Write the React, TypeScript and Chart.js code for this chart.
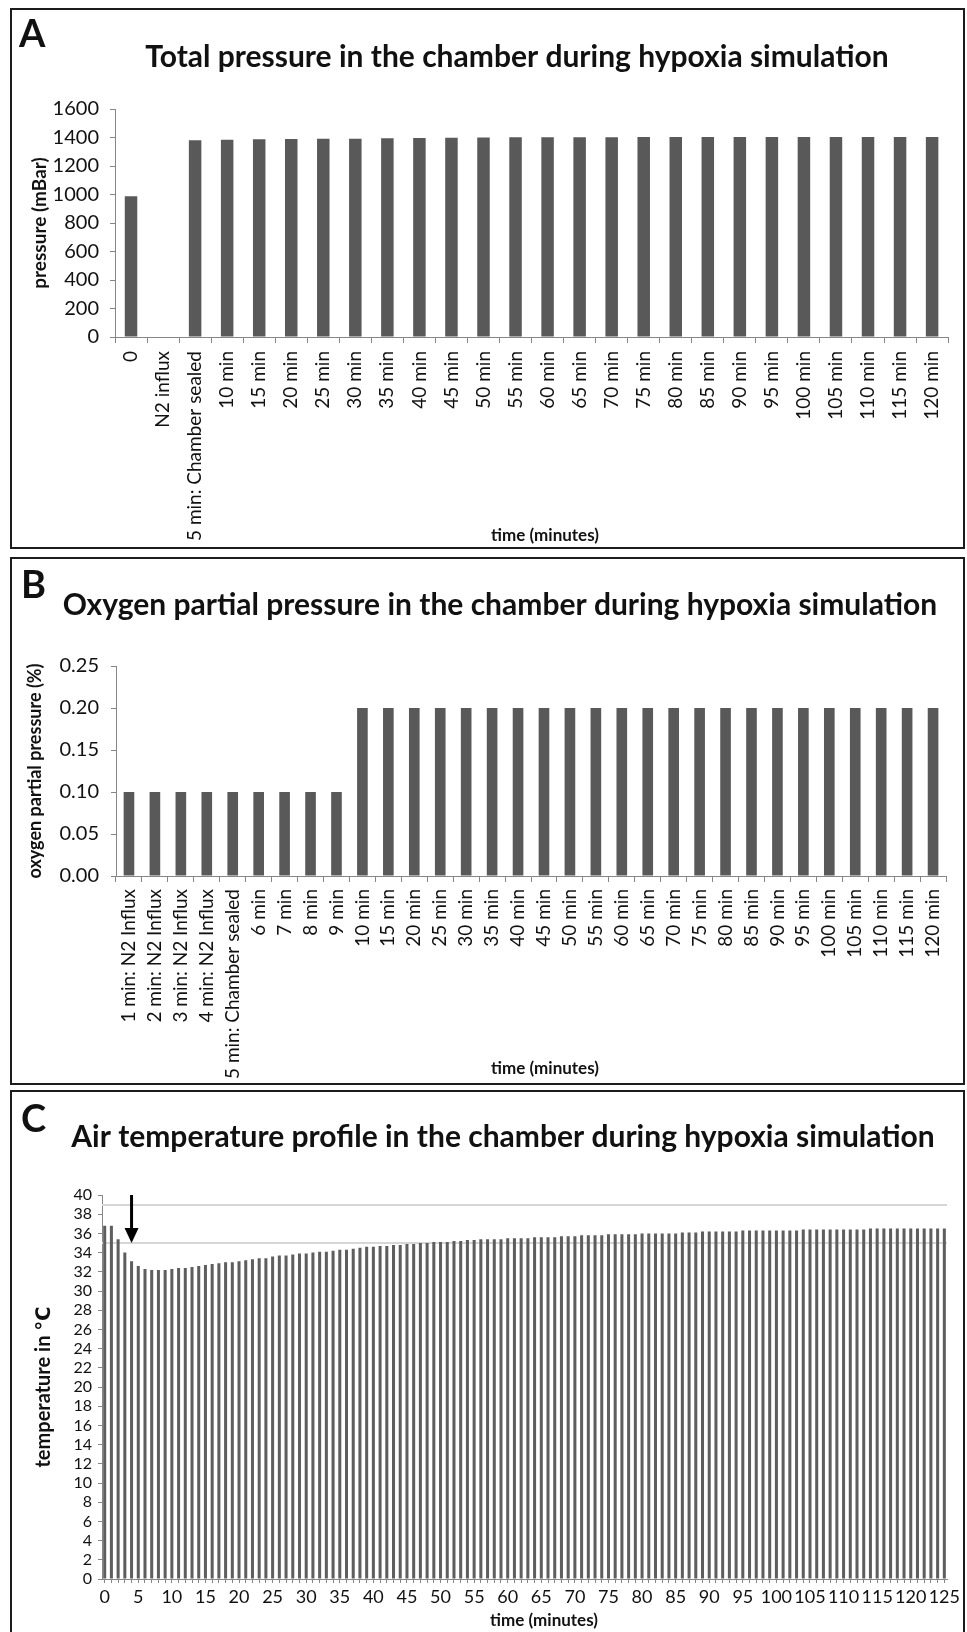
import React, { useEffect, useRef } from "react";
import { Chart, registerables } from "chart.js";

Chart.register(...registerables);

const FONT_FAMILY = "Lato, 'Open Sans', 'DejaVu Sans', sans-serif";
const BAR_COLOR = "#595959";
const AXIS_COLOR = "#868686";
const TEXT_COLOR = "#111111";
const X_LABEL = "time (minutes)";

// ---------------- Panel A data ----------------
const A_TITLE = "Total pressure in the chamber during hypoxia simulation";
const A_Y_LABEL = "pressure (mBar)";
const A_CATEGORIES = [
  "0", "N2 influx", "5 min: Chamber sealed", "10 min", "15 min", "20 min", "25 min",
  "30 min", "35 min", "40 min", "45 min", "50 min", "55 min", "60 min", "65 min",
  "70 min", "75 min", "80 min", "85 min", "90 min", "95 min", "100 min", "105 min",
  "110 min", "115 min", "120 min",
];
const A_PRESSURE_MBAR = [
  988, null, 1381, 1385, 1388, 1390, 1392, 1392, 1395, 1397, 1399, 1400, 1401,
  1401, 1402, 1402, 1403, 1403, 1403, 1403, 1403, 1404, 1404, 1404, 1404, 1404,
];
const A_Y_MIN = 0;
const A_Y_MAX = 1600;
const A_Y_STEP = 200;

// ---------------- Panel B data ----------------
const B_TITLE = "Oxygen partial pressure in the chamber during hypoxia simulation";
const B_Y_LABEL = "oxygen partial pressure (%)";
const B_CATEGORIES = [
  "1 min: N2 Influx", "2 min: N2 Influx", "3 min: N2 Influx", "4 min: N2 Influx",
  "5 min: Chamber sealed", "6 min", "7 min", "8 min", "9 min", "10 min", "15 min",
  "20 min", "25 min", "30 min", "35 min", "40 min", "45 min", "50 min", "55 min",
  "60 min", "65 min", "70 min", "75 min", "80 min", "85 min", "90 min", "95 min",
  "100 min", "105 min", "110 min", "115 min", "120 min",
];
const B_OXYGEN_PCT = [
  0.1, 0.1, 0.1, 0.1, 0.1, 0.1, 0.1, 0.1, 0.1, 0.2, 0.2, 0.2, 0.2, 0.2, 0.2, 0.2,
  0.2, 0.2, 0.2, 0.2, 0.2, 0.2, 0.2, 0.2, 0.2, 0.2, 0.2, 0.2, 0.2, 0.2, 0.2, 0.2,
];
const B_Y_MIN = 0;
const B_Y_MAX = 0.25;
const B_Y_STEP = 0.05;

// ---------------- Panel C data ----------------
const C_TITLE = "Air temperature profile in the chamber during hypoxia simulation";
const C_Y_LABEL = "temperature in \u2103";
const C_MINUTES = Array.from({ length: 126 }, (_, i) => i);
const C_TEMPERATURE = [
  36.8, 36.8, 35.4, 34.0, 33.1, 32.6, 32.3, 32.2, 32.2, 32.2,
  32.3, 32.4, 32.4, 32.5, 32.6, 32.7, 32.8, 32.9, 33.0, 33.0,
  33.1, 33.2, 33.3, 33.4, 33.4, 33.6, 33.7, 33.7, 33.8, 33.9,
  33.9, 34.0, 34.1, 34.1, 34.2, 34.3, 34.3, 34.4, 34.5, 34.6,
  34.6, 34.7, 34.7, 34.8, 34.8, 34.9, 34.9, 35.0, 35.0, 35.1,
  35.1, 35.1, 35.2, 35.2, 35.3, 35.3, 35.4, 35.4, 35.4, 35.4,
  35.5, 35.5, 35.5, 35.5, 35.6, 35.6, 35.6, 35.6, 35.7, 35.7,
  35.7, 35.8, 35.8, 35.8, 35.8, 35.9, 35.9, 35.9, 35.9, 35.9,
  36.0, 36.0, 36.0, 36.0, 36.0, 36.0, 36.1, 36.1, 36.1, 36.2,
  36.2, 36.2, 36.2, 36.2, 36.2, 36.3, 36.3, 36.3, 36.3, 36.3,
  36.3, 36.3, 36.3, 36.3, 36.4, 36.4, 36.4, 36.4, 36.4, 36.4,
  36.4, 36.4, 36.4, 36.4, 36.5, 36.5, 36.5, 36.5, 36.5, 36.5,
  36.5, 36.5, 36.5, 36.5, 36.5, 36.5,
];
const C_Y_MIN = 0;
const C_Y_MAX = 40;
const C_Y_STEP = 2;
const C_X_MIN = -0.4;
const C_X_MAX = 125.4;
const C_X_LABEL_EVERY = 5;
const C_REFERENCE_LINES = [39, 35];
const C_ARROW_MINUTE = 4;
const C_ARROW_FROM = 40;
const C_ARROW_TO = 35;

// ---------------- layout (canvas pixels) ----------------
type Geo = {
  panel: { left: number; top: number; width: number; height: number; noBottom?: boolean };
  area: { left: number; right: number; top: number; bottom: number };
  yTitleX: number;
  yTitleSize: number;
  yTickSize: number;
  yTickPad: number;
  xTickSize: number;
  xTickPad: number;
  xTitle: { x: number; y: number; size: number };
  title: { x: number; y: number; size: number };
  letter: { x: number; baseline: number; size: number };
};

const GEO_A: Geo = {
  panel: { left: 10, top: 8, width: 955, height: 541 },
  area: { left: 103, right: 946, top: 99, bottom: 327 },
  yTitleX: 28, yTitleSize: 19, yTickSize: 20, yTickPad: 11, xTickSize: 19, xTickPad: 8,
  xTitle: { x: 533, y: 526, size: 17 },
  title: { x: 505, y: 47, size: 30 },
  letter: { x: 7, baseline: 37, size: 38 },
};
const GEO_B: Geo = {
  panel: { left: 10, top: 557, width: 955, height: 528 },
  area: { left: 104, right: 942, top: 107, bottom: 317 },
  yTitleX: 23, yTitleSize: 18, yTickSize: 20, yTickPad: 12, xTickSize: 19, xTickPad: 7,
  xTitle: { x: 533, y: 510, size: 17 },
  title: { x: 488, y: 46, size: 30 },
  letter: { x: 9, baseline: 39, size: 38 },
};
const GEO_C: Geo = {
  panel: { left: 10, top: 1090, width: 955, height: 545, noBottom: true },
  area: { left: 90, right: 948, top: 103, bottom: 487 },
  yTitleX: 32, yTitleSize: 20, yTickSize: 16, yTickPad: 6, xTickSize: 18, xTickPad: 3,
  xTitle: { x: 532, y: 529, size: 17 },
  title: { x: 491, y: 45, size: 30 },
  letter: { x: 9, baseline: 40, size: 38 },
};

function canvasSize(g: Geo) {
  return { w: g.panel.width - 4, h: g.panel.height - (g.panel.noBottom ? 2 : 4) };
}

function panelTextPlugin(title: string, letter: string, g: Geo) {
  return {
    id: "panelText",
    afterDraw(chart: any) {
      const ctx = chart.ctx;
      ctx.save();
      ctx.fillStyle = TEXT_COLOR;
      ctx.font = `bold ${g.title.size}px ${FONT_FAMILY}`;
      ctx.textAlign = "center";
      ctx.textBaseline = "middle";
      ctx.fillText(title, g.title.x, g.title.y);
      ctx.font = `bold ${g.xTitle.size}px ${FONT_FAMILY}`;
      ctx.fillText(X_LABEL, g.xTitle.x, g.xTitle.y);
      ctx.font = `bold ${g.letter.size}px ${FONT_FAMILY}`;
      ctx.textAlign = "left";
      ctx.textBaseline = "alphabetic";
      ctx.fillText(letter, g.letter.x, g.letter.baseline);
      ctx.restore();
    },
  };
}

function baseOptions(g: Geo, yLabel: string, yMin: number, yMax: number, yStep: number, yFmt?: (v: number) => string) {
  const { w, h } = canvasSize(g);
  const yLh = g.yTitleSize * 1.2;
  const padLeft = g.yTitleX - yLh / 2;
  const padding = { left: padLeft, right: w - g.area.right, top: g.area.top, bottom: 0 };
  const yWidth = g.area.left - padLeft;
  const xHeight = h - g.area.bottom;
  const y: any = {
    min: yMin,
    max: yMax,
    ticks: {
      stepSize: yStep,
      autoSkip: false,
      color: TEXT_COLOR,
      font: { size: g.yTickSize, family: FONT_FAMILY },
      padding: g.yTickPad,
      callback: yFmt ? (v: any) => yFmt(Number(v)) : (v: any) => String(v),
    },
    grid: { display: true, drawOnChartArea: false, drawTicks: true, tickLength: 5, color: AXIS_COLOR },
    border: { display: true, color: AXIS_COLOR, width: 1 },
    title: {
      display: true,
      text: yLabel,
      color: TEXT_COLOR,
      font: { size: g.yTitleSize, weight: "bold", family: FONT_FAMILY },
      padding: { top: 0, bottom: 0 },
    },
    afterFit: (s: any) => {
      s.width = yWidth;
    },
  };
  const xCommon: any = {
    border: { display: true, color: AXIS_COLOR, width: 1 },
    title: { display: false },
    afterFit: (s: any) => {
      s.height = xHeight;
    },
  };
  return { padding, y, xCommon };
}

function buildCategoryChart(
  canvas: HTMLCanvasElement,
  g: Geo,
  title: string,
  letter: string,
  labels: string[],
  values: (number | null)[],
  yLabel: string,
  yMin: number,
  yMax: number,
  yStep: number,
  barPct: number,
  yFmt?: (v: number) => string
) {
  const { padding, y, xCommon } = baseOptions(g, yLabel, yMin, yMax, yStep, yFmt);
  return new Chart(canvas, {
    type: "bar",
    data: {
      labels,
      datasets: [
        {
          data: values as any,
          backgroundColor: BAR_COLOR,
          borderWidth: 0,
          barPercentage: barPct,
          categoryPercentage: 1,
        },
      ],
    },
    options: {
      responsive: false,
      animation: false,
      events: [],
      layout: { padding, autoPadding: false } as any,
      plugins: { legend: { display: false }, tooltip: { enabled: false }, title: { display: false } },
      scales: {
        x: {
          ...xCommon,
          type: "category",
          offset: true,
          grid: { display: true, offset: true, drawOnChartArea: false, drawTicks: true, tickLength: 6, color: AXIS_COLOR },
          ticks: {
            autoSkip: false,
            maxRotation: 90,
            minRotation: 90,
            padding: g.xTickPad,
            color: TEXT_COLOR,
            font: { size: g.xTickSize, family: FONT_FAMILY },
          },
        },
        y,
      },
    } as any,
    plugins: [panelTextPlugin(title, letter, g)],
  });
}

function buildTemperatureChart(canvas: HTMLCanvasElement) {
  const g = GEO_C;
  const { padding, y, xCommon } = baseOptions(g, C_Y_LABEL, C_Y_MIN, C_Y_MAX, C_Y_STEP);
  y.grid.tickLength = 4;
  const refLines = {
    id: "refLines",
    beforeDatasetsDraw(chart: any) {
      const { ctx, chartArea, scales } = chart;
      ctx.save();
      ctx.strokeStyle = "#d6d6d6";
      ctx.lineWidth = 2;
      C_REFERENCE_LINES.forEach((v) => {
        const py = Math.round(scales.y.getPixelForValue(v));
        ctx.beginPath();
        ctx.moveTo(chartArea.left, py);
        ctx.lineTo(chartArea.right, py);
        ctx.stroke();
      });
      ctx.restore();
    },
  };
  const arrow = {
    id: "arrow",
    afterDatasetsDraw(chart: any) {
      const { ctx, scales } = chart;
      const x = scales.x.getPixelForValue(C_ARROW_MINUTE);
      const y0 = scales.y.getPixelForValue(C_ARROW_FROM);
      const y1 = scales.y.getPixelForValue(C_ARROW_TO);
      ctx.save();
      ctx.strokeStyle = "#000";
      ctx.fillStyle = "#000";
      ctx.lineWidth = 3;
      ctx.beginPath();
      ctx.moveTo(x, y0);
      ctx.lineTo(x, y1 - 12);
      ctx.stroke();
      ctx.beginPath();
      ctx.moveTo(x - 7, y1 - 15);
      ctx.lineTo(x + 7, y1 - 15);
      ctx.lineTo(x, y1);
      ctx.closePath();
      ctx.fill();
      ctx.restore();
    },
  };
  return new Chart(canvas, {
    type: "bar",
    data: {
      datasets: [
        {
          data: C_MINUTES.map((m, i) => ({ x: m, y: C_TEMPERATURE[i] })) as any,
          backgroundColor: "#5e5e5e",
          borderWidth: 0,
          barPercentage: 0.45,
          categoryPercentage: 1,
        },
      ],
    },
    options: {
      responsive: false,
      animation: false,
      events: [],
      layout: { padding, autoPadding: false } as any,
      plugins: { legend: { display: false }, tooltip: { enabled: false }, title: { display: false } },
      scales: {
        x: {
          ...xCommon,
          type: "linear",
          min: C_X_MIN,
          max: C_X_MAX,
          offset: false,
          grid: { display: true, offset: false, drawOnChartArea: false, drawTicks: true, tickLength: 4, color: AXIS_COLOR },
          afterBuildTicks: (s: any) => {
            s.ticks = C_MINUTES.map((v) => ({ value: v }));
          },
          ticks: {
            autoSkip: false,
            maxRotation: 0,
            minRotation: 0,
            padding: g.xTickPad,
            color: TEXT_COLOR,
            font: { size: g.xTickSize, family: FONT_FAMILY },
            callback: (v: any) => (Number(v) % C_X_LABEL_EVERY === 0 ? String(v) : ""),
          },
        },
        y,
      },
    } as any,
    plugins: [refLines, arrow, panelTextPlugin(C_TITLE, "C", g)],
  });
}

function Panel({ g, build }: { g: Geo; build: (c: HTMLCanvasElement) => Chart }) {
  const ref = useRef<HTMLCanvasElement | null>(null);
  useEffect(() => {
    if (!ref.current) return;
    const chart = build(ref.current);
    return () => chart.destroy();
  }, []);
  const { w, h } = canvasSize(g);
  return (
    <div
      style={{
        position: "absolute",
        left: g.panel.left,
        top: g.panel.top,
        width: g.panel.width,
        height: g.panel.height,
        boxSizing: "border-box",
        border: "2px solid #1c1c1c",
        borderBottom: g.panel.noBottom ? "none" : "2px solid #1c1c1c",
        background: "#fff",
        overflow: "hidden",
      }}
    >
      <canvas ref={ref} width={w} height={h} style={{ display: "block", width: w, height: h }} />
    </div>
  );
}

export default function App() {
  return (
    <div
      style={{
        position: "absolute",
        left: 0,
        top: 0,
        width: 967,
        height: 1632,
        overflow: "hidden",
        background: "#fff",
        fontFamily: FONT_FAMILY,
      }}
    >
      <Panel
        g={GEO_A}
        build={(c) =>
          buildCategoryChart(c, GEO_A, A_TITLE, "A", A_CATEGORIES, A_PRESSURE_MBAR, A_Y_LABEL, A_Y_MIN, A_Y_MAX, A_Y_STEP, 0.39)
        }
      />
      <Panel
        g={GEO_B}
        build={(c) =>
          buildCategoryChart(c, GEO_B, B_TITLE, "B", B_CATEGORIES, B_OXYGEN_PCT, B_Y_LABEL, B_Y_MIN, B_Y_MAX, B_Y_STEP, 0.41, (v) => v.toFixed(2))
        }
      />
      <Panel g={GEO_C} build={buildTemperatureChart} />
    </div>
  );
}
